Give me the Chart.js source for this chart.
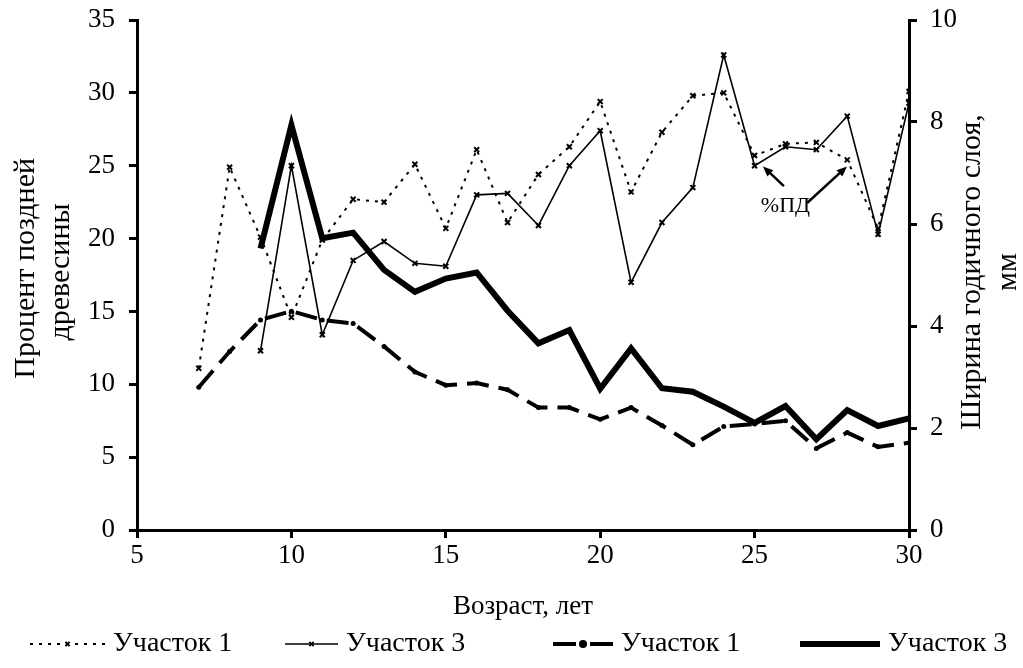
<!DOCTYPE html>
<html>
<head>
<meta charset="utf-8">
<script src="https://cdn.jsdelivr.net/npm/chart.js@4.4.1/dist/chart.umd.min.js"></script>
<style>
  html, body { margin: 0; padding: 0; background: #fff; }
  #wrap { width: 1023px; height: 668px; }
</style>
</head>
<body>
<div id="wrap"><canvas id="chart"></canvas></div>
<script>
// age, years
const ages = [7, 8, 9, 10, 11, 12, 13, 14, 15, 16, 17, 18, 19, 20, 21, 22, 23, 24, 25, 26, 27, 28, 29, 30];

// % late wood (left axis)
const lateWood1 = [11.1, 24.9, 20.1, 14.6, 19.9, 22.7, 22.5, 25.1, 20.7, 26.1, 21.1, 24.4, 26.3, 29.4, 23.2, 27.3, 29.8, 30.0, 25.7, 26.5, 26.6, 25.4, 20.7, 30.1];
const lateWood3 = [null, null, 12.3, 25.0, 13.4, 18.5, 19.8, 18.3, 18.1, 23.0, 23.1, 20.9, 25.0, 27.4, 17.0, 21.1, 23.5, 32.6, 25.0, 26.3, 26.1, 28.4, 20.3, 29.3];

// ring width, mm (right axis)
const ringWidth1 = [2.8, 3.5, 4.12, 4.29, 4.12, 4.05, 3.6, 3.1, 2.84, 2.88, 2.75, 2.4, 2.4, 2.17, 2.4, 2.05, 1.67, 2.03, 2.08, 2.14, 1.6, 1.91, 1.63, 1.71];
const ringWidth3 = [null, null, 5.52, 7.94, 5.72, 5.83, 5.1, 4.67, 4.93, 5.05, 4.3, 3.66, 3.92, 2.77, 3.56, 2.78, 2.71, 2.42, 2.1, 2.43, 1.78, 2.35, 2.04, 2.19];

const seriesNames = ['Участок 1', 'Участок 3', 'Участок 1', 'Участок 3'];

// "%ПД" callout, in data units (x = age, y = left axis)
const noteText = '%ПД';
const notePos = [26.0, 22.2];
const noteArrows = [
    [[25.95, 23.6], [25.27, 24.95]],
    [[26.7, 22.44], [27.99, 24.95]]
];

const FONT = '"Liberation Serif", "Times New Roman", serif';

function toPoints(ys) {
    return ages.map((a, i) => ({ x: a, y: ys[i] }));
}

function rotatedText(ctx, text, x, y, align) {
    ctx.save();
    ctx.translate(x, y);
    ctx.rotate(-Math.PI / 2);
    ctx.textAlign = align;
    ctx.textBaseline = 'alphabetic';
    ctx.fillText(text, 0, 0);
    ctx.restore();
}

// vertical axis titles, both read bottom-to-top
const axisTitles = {
    id: 'axisTitles',
    afterDraw(chart) {
        const ctx = chart.ctx;
        ctx.save();
        ctx.fillStyle = '#000';
        ctx.font = '30px ' + FONT;
        rotatedText(ctx, 'Процент поздней', 34, 158, 'right');
        rotatedText(ctx, 'древесины', 69, 272, 'center');
        rotatedText(ctx, 'Ширина годичного слоя,', 980, 272, 'center');
        rotatedText(ctx, 'мм', 1016, 272, 'center');
        ctx.restore();
    }
};

const callout = {
    id: 'callout',
    afterDatasetsDraw(chart) {
        const ctx = chart.ctx;
        const xs = chart.scales.x, ys = chart.scales.y;
        ctx.save();
        ctx.fillStyle = '#000';
        ctx.strokeStyle = '#000';
        ctx.font = '22px ' + FONT;
        ctx.textAlign = 'center';
        ctx.textBaseline = 'middle';
        ctx.fillText(noteText, xs.getPixelForValue(notePos[0]), ys.getPixelForValue(notePos[1]));
        noteArrows.forEach(([from, to]) => {
            const x0 = xs.getPixelForValue(from[0]), y0 = ys.getPixelForValue(from[1]);
            const x1 = xs.getPixelForValue(to[0]), y1 = ys.getPixelForValue(to[1]);
            const ang = Math.atan2(y1 - y0, x1 - x0);
            const head = 11;
            ctx.lineWidth = 2.5;
            ctx.beginPath();
            ctx.moveTo(x0, y0);
            ctx.lineTo(x1 - Math.cos(ang) * head * 0.8, y1 - Math.sin(ang) * head * 0.8);
            ctx.stroke();
            ctx.beginPath();
            ctx.moveTo(x1, y1);
            ctx.lineTo(x1 - head * Math.cos(ang - 0.4), y1 - head * Math.sin(ang - 0.4));
            ctx.lineTo(x1 - head * Math.cos(ang + 0.4), y1 - head * Math.sin(ang + 0.4));
            ctx.closePath();
            ctx.fill();
        });
        ctx.restore();
    }
};

// legend row under the axis title: [line start, line end] for each series
const legendSpans = [[30, 105], [285, 338], [553, 613], [800, 880]];
const legendY = 644;

const bottomLegend = {
    id: 'bottomLegend',
    afterDraw(chart) {
        const ctx = chart.ctx;
        ctx.save();
        ctx.strokeStyle = '#000';
        ctx.fillStyle = '#000';
        chart.data.datasets.forEach((ds, i) => {
            const [a, b] = legendSpans[i];
            const mid = (a + b) / 2;
            ctx.lineWidth = ds.borderWidth;
            ctx.setLineDash([]);
            if (i === 2) {
                // dash - dot - dash
                ctx.beginPath();
                ctx.moveTo(a, legendY); ctx.lineTo(mid - 7, legendY);
                ctx.moveTo(mid + 7, legendY); ctx.lineTo(b, legendY);
                ctx.stroke();
            } else {
                ctx.setLineDash(ds.borderDash || []);
                ctx.beginPath();
                ctx.moveTo(a, legendY); ctx.lineTo(b, legendY);
                ctx.stroke();
            }
            ctx.setLineDash([]);
            if (ds.pointRadius) {
                Chart.helpers.drawPoint(ctx, {
                    pointStyle: ds.pointStyle,
                    radius: ds.pointRadius - 0.5,
                    borderWidth: ds.pointBorderWidth || 1.5
                }, mid, legendY);
            }
            ctx.font = '28px ' + FONT;
            ctx.textAlign = 'left';
            ctx.textBaseline = 'middle';
            ctx.fillText(ds.label, b + 8, legendY);
        });
        ctx.restore();
    }
};

new Chart(document.getElementById('chart'), {
    type: 'line',
    data: {
        datasets: [{
            label: seriesNames[0],
            data: toPoints(lateWood1),
            yAxisID: 'y',
            borderColor: '#000',
            backgroundColor: '#000',
            borderWidth: 2,
            borderDash: [3, 6],
            pointStyle: 'crossRot',
            pointRadius: 3.5,
            pointBorderWidth: 2,
            pointBorderColor: '#000'
        }, {
            label: seriesNames[1],
            data: toPoints(lateWood3),
            yAxisID: 'y',
            borderColor: '#000',
            backgroundColor: '#000',
            borderWidth: 1.6,
            pointStyle: 'crossRot',
            pointRadius: 3.5,
            pointBorderWidth: 2,
            pointBorderColor: '#000'
        }, {
            label: seriesNames[2],
            data: toPoints(ringWidth1),
            yAxisID: 'y1',
            borderColor: '#000',
            backgroundColor: '#000',
            borderWidth: 4,
            borderDash: [22, 10],
            pointStyle: 'circle',
            pointRadius: 2.5,
            pointBorderWidth: 0,
            pointBackgroundColor: '#000'
        }, {
            label: seriesNames[3],
            data: toPoints(ringWidth3),
            yAxisID: 'y1',
            borderColor: '#000',
            backgroundColor: '#000',
            borderWidth: 6,
            pointRadius: 0
        }]
    },
    options: {
        responsive: true,
        maintainAspectRatio: false,
        animation: false,
        layout: { padding: { top: 20, bottom: 45, left: 0, right: 0 } },
        elements: { line: { tension: 0, fill: false } },
        plugins: {
            tooltip: { enabled: false },
            legend: { display: false }
        },
        scales: {
            x: {
                type: 'linear',
                min: 5,
                max: 30,
                ticks: {
                    stepSize: 5,
                    color: '#000',
                    font: { family: FONT, size: 27 },
                    padding: 2,
                    maxRotation: 0
                },
                grid: { drawOnChartArea: false, drawTicks: true, tickLength: 8, lineWidth: 3, color: '#000' },
                border: { display: true, width: 3, color: '#000' },
                title: {
                    display: true,
                    text: 'Возраст, лет',
                    color: '#000',
                    font: { family: FONT, size: 27 },
                    padding: { top: 0, bottom: 0 }
                },
                afterFit(scale) { scale.height = 93; }
            },
            y: {
                position: 'left',
                min: 0,
                max: 35,
                ticks: {
                    stepSize: 5,
                    color: '#000',
                    font: { family: FONT, size: 27 },
                    padding: 14
                },
                grid: { drawOnChartArea: false, drawTicks: true, tickLength: 8, lineWidth: 3, color: '#000' },
                border: { display: true, width: 3, color: '#000' },
                afterFit(scale) { scale.width = 137; scale.paddingTop = 0; scale.paddingBottom = 0; }
            },
            y1: {
                position: 'right',
                min: 0,
                max: 10,
                ticks: {
                    stepSize: 2,
                    color: '#000',
                    font: { family: FONT, size: 27 },
                    padding: 13
                },
                grid: { drawOnChartArea: false, drawTicks: true, tickLength: 8, lineWidth: 3, color: '#000' },
                border: { display: true, width: 3, color: '#000' },
                afterFit(scale) { scale.width = 114; scale.paddingTop = 0; scale.paddingBottom = 0; }
            }
        }
    },
    plugins: [axisTitles, callout, bottomLegend]
});
</script>
</body>
</html>
